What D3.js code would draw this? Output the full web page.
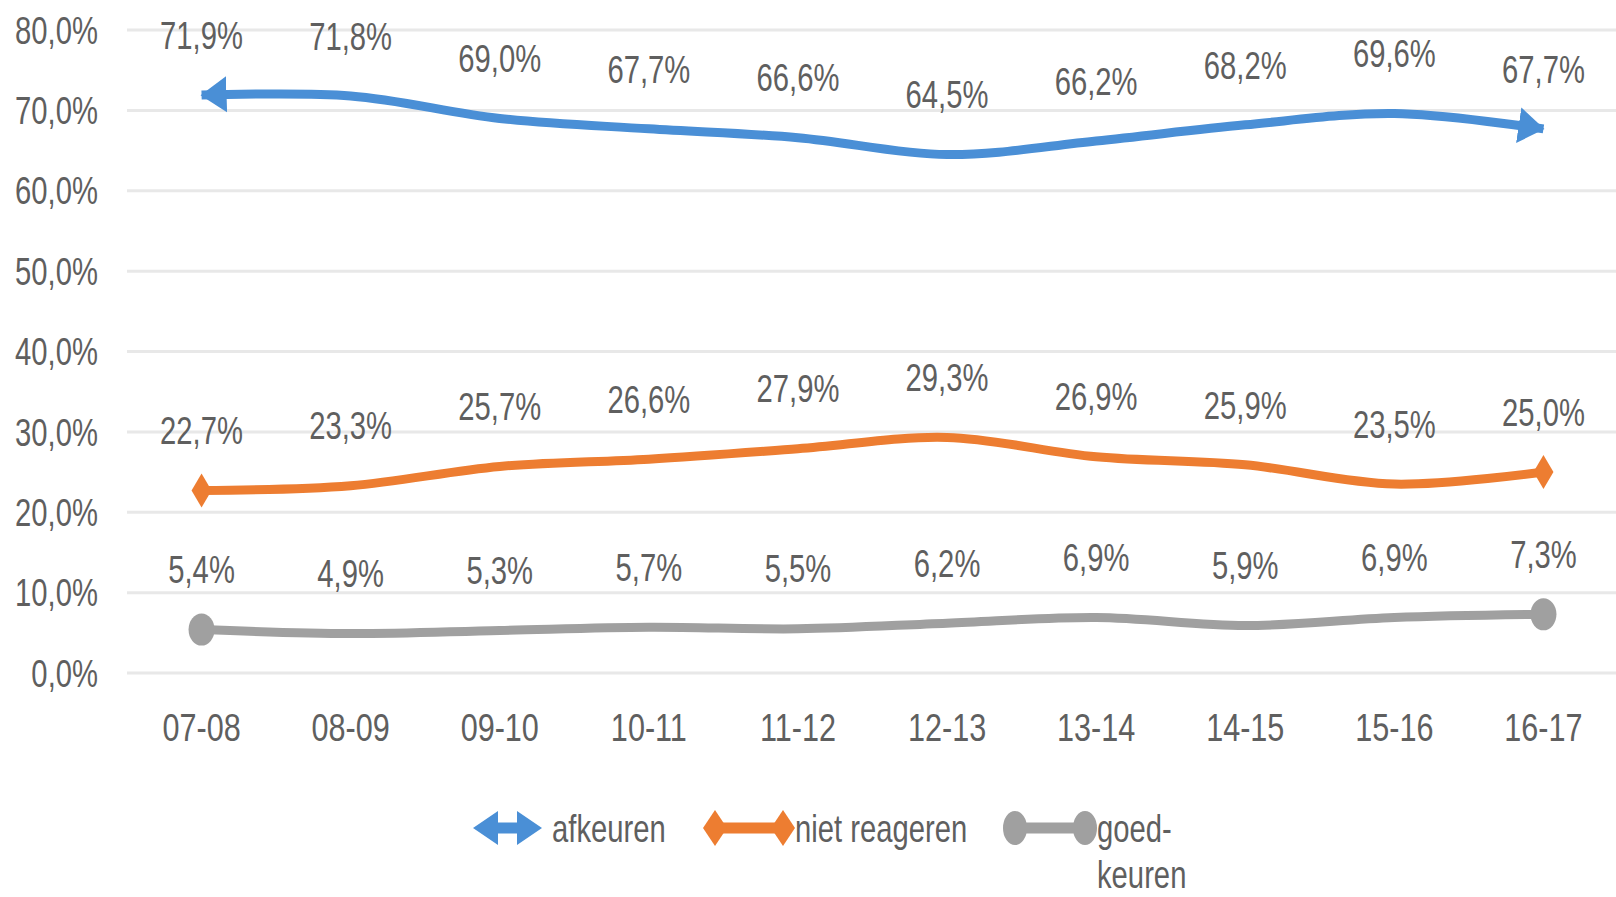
<!DOCTYPE html>
<html>
<head>
<meta charset="utf-8">
<script src="https://cdn.jsdelivr.net/npm/d3@7/dist/d3.min.js"></script>
<style>
  html, body { margin: 0; padding: 0; background: #fff; }
  svg text { font-family: "Liberation Sans", Arial, sans-serif; fill: #5f5f5f; }
</style>
</head>
<body>
<svg id="chart" width="1616" height="897"></svg>
<script>
// data
var years = ["07-08", "08-09", "09-10", "10-11", "11-12", "12-13", "13-14", "14-15", "15-16", "16-17"];
var afkeuren = [71.9, 71.8, 69.0, 67.7, 66.6, 64.5, 66.2, 68.2, 69.6, 67.7];
var nietReageren = [22.7, 23.3, 25.7, 26.6, 27.9, 29.3, 26.9, 25.9, 23.5, 25.0];
var goedkeuren = [5.4, 4.9, 5.3, 5.7, 5.5, 6.2, 6.9, 5.9, 6.9, 7.3];
var yTicks = [0, 10, 20, 30, 40, 50, 60, 70, 80];
var legendNames = ["afkeuren", "niet reageren", ["goed-", "keuren"]];
var colors = ["#4a8fd6", "#ed7d31", "#a0a0a0"];

var svg = d3.select("#chart");
var W = 1616, H = 897;
var FS = 34, SX = 0.86, SY = 1.15;   // font size and stretch of the text (condensed, tall look)

var x = d3.scalePoint().domain(years).range([127, 1618]).padding(0.5);
var y = d3.scaleLinear().domain([0, 80]).range([673, 30]);

function fmt(v) { return d3.format(".1f")(v).replace(".", ",") + "%"; }

function label(g, tx, ty, str, anchor, sx) {
    return g.append("text")
        .attr("transform", `translate(${tx},${ty}) scale(${sx || SX},${SY})`)
        .attr("text-anchor", anchor || "middle")
        .attr("dy", "0.35em")
        .attr("font-size", FS)
        .text(str);
}

// gridlines
var grid = svg.append("g");
grid.selectAll("line").data(yTicks).enter().append("line")
    .attr("x1", 127).attr("x2", W)
    .attr("y1", d => y(d)).attr("y2", d => y(d))
    .attr("stroke", "#e8e8e8").attr("stroke-width", 3);

// y axis labels
var yax = svg.append("g");
yTicks.forEach(t => label(yax, 98, y(t), d3.format(".1f")(t).replace(".", ",") + "%", "end"));

// x axis labels
var xax = svg.append("g");
years.forEach(c => label(xax, x(c), 727, c, "middle", 0.9));

// arrow marker for afkeuren
var defs = svg.append("defs");
defs.append("marker")
    .attr("id", "arrow")
    .attr("markerUnits", "userSpaceOnUse")
    .attr("viewBox", "0 -19 27 38")
    .attr("refX", 25).attr("refY", 0)
    .attr("markerWidth", 27).attr("markerHeight", 38)
    .attr("orient", "auto-start-reverse")
    .append("path").attr("d", "M0,-18L26,0L0,18Z").attr("fill", colors[0]);

var line = d3.line()
    .x((d, i) => x(years[i]))
    .y(d => y(d))
    .curve(d3.curveCatmullRom.alpha(0.5));

var allSeries = [afkeuren, nietReageren, goedkeuren];
allSeries.forEach(function (s, k) {
    var g = svg.append("g");
    var p = g.append("path")
        .attr("d", line(s))
        .attr("fill", "none")
        .attr("stroke", colors[k])
        .attr("stroke-width", 9)
        .attr("stroke-linecap", k == 0 ? "butt" : "round");
    if (k == 0) {
        p.attr("marker-start", "url(#arrow)").attr("marker-end", "url(#arrow)");
    }
    var ends = [0, s.length - 1];
    if (k == 1) {
        g.selectAll("path.m").data(ends).enter().append("path")
            .attr("class", "m")
            .attr("d", "M0,-17L10,0L0,17L-10,0Z")
            .attr("transform", i => `translate(${x(years[i])},${y(s[i])})`)
            .attr("fill", colors[k]);
    }
    if (k == 2) {
        g.selectAll("ellipse").data(ends).enter().append("ellipse")
            .attr("cx", i => x(years[i])).attr("cy", i => y(s[i]))
            .attr("rx", 13).attr("ry", 16)
            .attr("fill", colors[k]);
    }
    s.forEach((v, i) => label(g, x(years[i]), y(v) - 60, fmt(v)));
});

// legend
var lg = svg.append("g");
var ly = 828;
// afkeuren: double arrow
lg.append("line").attr("x1", 490).attr("x2", 525).attr("y1", ly).attr("y2", ly)
    .attr("stroke", colors[0]).attr("stroke-width", 11);
lg.append("path").attr("d", `M473,${ly}L498,${ly - 17}L498,${ly + 17}Z`).attr("fill", colors[0]);
lg.append("path").attr("d", `M542,${ly}L517,${ly - 17}L517,${ly + 17}Z`).attr("fill", colors[0]);
label(lg, 552, ly, legendNames[0], "start");
// niet reageren: line with diamonds
lg.append("line").attr("x1", 715).attr("x2", 783).attr("y1", ly).attr("y2", ly)
    .attr("stroke", colors[1]).attr("stroke-width", 11);
[715, 783].forEach(cx => lg.append("path")
    .attr("d", `M${cx},${ly - 18}L${cx + 12},${ly}L${cx},${ly + 18}L${cx - 12},${ly}Z`)
    .attr("fill", colors[1]));
label(lg, 795, ly, legendNames[1], "start");
// goed-keuren: line with circles
lg.append("line").attr("x1", 1015).attr("x2", 1085).attr("y1", ly).attr("y2", ly)
    .attr("stroke", colors[2]).attr("stroke-width", 11);
[1015, 1085].forEach(cx => lg.append("ellipse")
    .attr("cx", cx).attr("cy", ly).attr("rx", 12).attr("ry", 17).attr("fill", colors[2]));
label(lg, 1097, ly, legendNames[2][0], "start");
label(lg, 1097, 874, legendNames[2][1], "start");
</script>
</body>
</html>
